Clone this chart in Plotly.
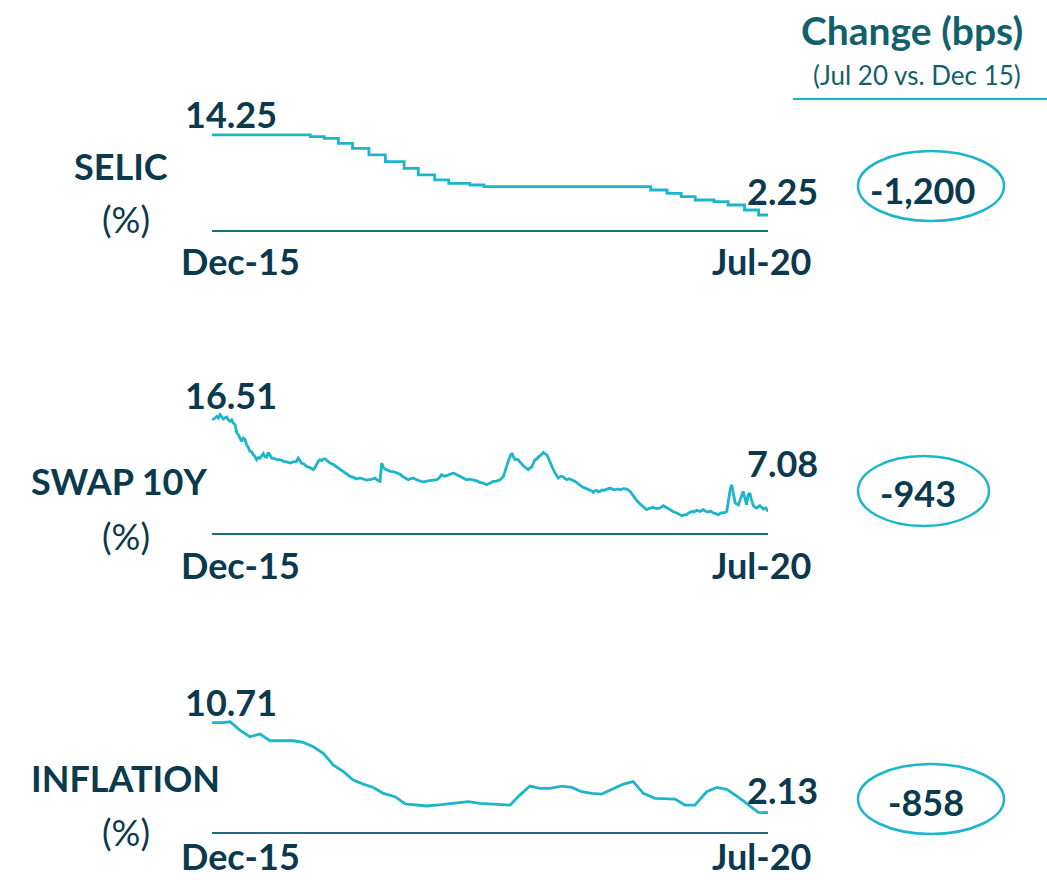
import pandas as pd
import plotly.graph_objects as go

W, H = 1047, 880

# ---- data -------------------------------------------------------------
START = "2015-12-31"
END = "2020-07-15"

# SELIC target rate (%), step changes
selic_dates = ["2015-12-31", "2016-10-19", "2016-11-30", "2017-01-11", "2017-02-22",
               "2017-04-12", "2017-05-31", "2017-07-26", "2017-09-06", "2017-10-25",
               "2017-12-06", "2018-02-07", "2018-03-21", "2019-07-31", "2019-09-18",
               "2019-10-30", "2019-12-11", "2020-02-05", "2020-03-18", "2020-05-06",
               "2020-06-17", "2020-07-15"]
selic_vals = [14.25, 14.00, 13.75, 13.00, 12.25, 11.25, 10.25, 9.25, 8.25, 7.50,
              7.00, 6.75, 6.50, 6.00, 5.50, 5.00, 4.50, 4.25, 3.75, 3.00, 2.25, 2.25]

# SWAP 10Y (%): (days after 31-Dec-2015, rate)
swap_points = [
    (0, 16.51), (7, 16.62), (14, 16.86), (19, 16.70), (24, 17.03), (29, 16.85),
    (34, 16.58), (39, 16.72), (44, 16.79), (49, 16.50), (54, 16.34), (59, 16.51),
    (64, 16.15), (69, 16.00), (74, 15.14), (78, 15.02), (83, 14.63), (88, 14.29),
    (93, 14.62), (98, 14.53), (103, 13.94), (108, 13.70), (113, 13.26), (118, 13.22),
    (123, 12.91), (128, 12.72), (133, 12.40), (138, 12.62), (143, 12.57), (148, 12.85),
    (153, 13.02), (158, 12.70), (163, 12.67), (168, 13.15), (173, 12.80), (178, 12.57),
    (185, 12.55), (193, 12.40), (203, 12.41), (213, 12.23), (223, 12.18), (233, 12.06),
    (243, 12.18), (252, 12.23), (257, 12.57), (262, 12.25), (267, 12.06), (275, 11.95),
    (282, 11.71), (292, 11.60), (302, 11.37), (307, 11.58), (312, 11.89), (317, 12.25),
    (322, 12.40), (327, 12.30), (332, 12.47), (337, 12.50), (342, 12.33), (347, 12.20),
    (352, 12.06), (362, 11.90), (372, 11.65), (382, 11.48), (392, 11.20), (402, 10.95),
    (412, 10.68), (422, 10.58), (431, 10.41), (441, 10.52), (451, 10.44), (461, 10.30),
    (471, 10.34), (479, 10.45), (486, 10.51), (494, 10.28), (501, 10.17), (506, 12.06),
    (511, 11.60), (516, 11.44), (523, 11.35), (531, 11.20), (541, 11.18), (551, 11.03),
    (561, 10.90), (571, 10.62), (578, 10.50), (585, 10.34), (592, 10.45), (600, 10.51),
    (610, 10.34), (620, 10.22), (630, 10.10), (640, 10.20), (650, 10.24), (660, 10.30),
    (670, 10.34), (678, 10.55), (685, 10.86), (692, 10.70), (700, 10.75), (710, 10.90),
    (720, 11.03), (730, 10.85), (740, 10.68), (750, 10.52), (759, 10.34), (769, 10.40),
    (779, 10.34), (789, 10.22), (799, 10.07), (809, 10.00), (819, 9.83), (829, 10.00),
    (839, 10.17), (849, 10.20), (859, 10.34), (869, 10.68), (874, 11.30), (879, 11.71),
    (884, 12.30), (889, 12.74), (894, 13.09), (899, 12.70), (904, 12.40), (911, 12.45),
    (918, 12.23), (923, 12.00), (928, 11.78), (935, 11.60), (943, 11.37), (948, 11.55),
    (953, 11.65), (958, 12.00), (963, 12.40), (968, 12.45), (973, 12.67), (980, 12.85),
    (988, 13.15), (993, 13.00), (998, 12.91), (1003, 12.60), (1008, 12.13), (1015, 11.60),
    (1023, 11.03), (1028, 10.70), (1033, 10.51), (1040, 10.70), (1048, 10.62), (1053, 10.45),
    (1058, 10.34), (1065, 10.45), (1073, 10.34), (1078, 10.30), (1083, 10.17), (1090, 9.98),
    (1098, 9.72), (1105, 9.58), (1113, 9.48), (1120, 9.40), (1128, 9.31), (1132, 9.20),
    (1137, 9.04), (1142, 9.20), (1147, 9.24), (1152, 9.10), (1157, 9.14), (1162, 9.28),
    (1167, 9.24), (1177, 9.38), (1187, 9.48), (1195, 9.35), (1202, 9.31), (1210, 9.40),
    (1217, 9.31), (1227, 9.42), (1237, 9.38), (1247, 9.14), (1254, 8.80), (1261, 8.46),
    (1268, 8.15), (1276, 7.87), (1283, 7.62), (1291, 7.43), (1296, 7.26), (1306, 7.42),
    (1316, 7.50), (1326, 7.38), (1336, 7.43), (1346, 7.67), (1356, 7.45), (1366, 7.26),
    (1376, 7.05), (1386, 6.91), (1393, 6.80), (1401, 6.64), (1408, 6.72), (1415, 6.74),
    (1422, 6.92), (1430, 7.08), (1437, 7.02), (1445, 7.19), (1455, 7.08), (1465, 7.26),
    (1472, 7.10), (1480, 7.02), (1487, 7.12), (1495, 6.91), (1502, 6.85), (1510, 6.74),
    (1517, 6.90), (1525, 6.91), (1530, 6.98), (1535, 7.08), (1540, 8.28), (1545, 9.31),
    (1550, 9.83), (1555, 8.80), (1560, 7.94), (1570, 7.77), (1579, 8.80), (1584, 9.14),
    (1589, 8.46), (1594, 7.77), (1599, 8.80), (1604, 8.97), (1609, 8.28), (1614, 7.67),
    (1619, 7.52), (1624, 7.43), (1634, 7.67), (1639, 7.45), (1644, 7.32), (1652, 7.43),
    (1658, 7.08),
]

# Inflation, 12 months (%), days after 31-Dec-2015
infl_days = [0, 30, 54, 83, 113, 143, 173, 203, 243, 272, 302, 332, 362, 392, 421,
             451, 481, 511, 546, 576, 640, 670, 700, 730, 764, 799, 829, 859, 889,
             918, 948, 978, 1008, 1043, 1073, 1102, 1132, 1162, 1197, 1227, 1256,
             1286, 1321, 1356, 1381, 1410, 1440, 1475, 1505, 1535, 1565, 1594, 1629,
             1658]
infl_vals = [10.71, 10.71, 10.80, 10.00, 9.37, 9.63, 8.99, 8.99, 8.99, 8.83, 8.42,
             7.79, 6.67, 6.04, 5.24, 4.86, 4.54, 3.97, 3.66, 2.96, 2.77, 2.86, 2.96,
             3.08, 3.18, 3.02, 2.96, 2.96, 2.86, 3.81, 4.67, 4.45, 4.45, 4.67, 4.54,
             4.13, 3.97, 3.91, 4.45, 4.86, 5.09, 3.97, 3.50, 3.50, 3.43, 2.86, 2.86,
             4.13, 4.54, 4.35, 3.72, 3.02, 2.16, 2.13]

panel_names = ["SELIC", "SWAP 10Y", "INFLATION"]
start_label = "Dec-15"
end_label = "Jul-20"

# ---- styling ----------------------------------------------------------
LINE = "#1cb5c9"
BASE = "#1d6b7c"
NAVY = "#0b394d"
TEAL = "#125f6e"
FONT = "Lato"


def px(x):
    return x / W


def py(y):
    return 1 - y / H


def days_to_dates(days):
    return pd.Timestamp(START) + pd.to_timedelta(list(days), unit="D")


swap_days, swap_vals = zip(*swap_points)

series = [
    (pd.to_datetime(selic_dates), list(selic_vals), "hv"),
    (days_to_dates(swap_days), list(swap_vals), "linear"),
    (days_to_dates(infl_days), list(infl_vals), "linear"),
]

# per panel: baseline pixel, value at baseline, pixels per unit, top of range
scales = [(230, 0.0, 6.67, 15.0), (533, 4.86, 9.72, 17.5), (831.7, 0.32, 10.49, 11.5)]

X_LEFT, X_RIGHT = 212, 768

fig = go.Figure()
layout = dict(width=W, height=H, margin=dict(l=0, r=0, t=0, b=0),
              paper_bgcolor="white", plot_bgcolor="rgba(0,0,0,0)", showlegend=False)

for i, ((x, y, shape), (pb, vb, s, vt)) in enumerate(zip(series, scales)):
    n = "" if i == 0 else str(i + 1)
    fig.add_trace(go.Scatter(x=x, y=y, mode="lines", xaxis="x" + n, yaxis="y" + n,
                             line=dict(color=LINE, width=2.8, shape=shape),
                             hoverinfo="skip"))
    top_px = pb - (vt - vb) * s
    layout["xaxis" + n] = dict(domain=[px(X_LEFT), px(X_RIGHT)], range=[START, END],
                               type="date", showgrid=False, zeroline=False,
                               showticklabels=False, ticks="", showline=True,
                               linecolor=BASE, linewidth=2, anchor="y" + n)
    layout["yaxis" + n] = dict(domain=[py(pb), py(top_px)], range=[vb, vt],
                               showgrid=False, zeroline=False, visible=False,
                               anchor="x" + n)

fig.update_layout(**layout)

annotations = []


def label(text, x, y, size, color=NAVY, bold=True, xanchor="center", yanchor="middle"):
    annotations.append(dict(
        text=f"<b>{text}</b>" if bold else text, x=px(x), y=py(y),
        xref="paper", yref="paper", xanchor=xanchor, yanchor=yanchor,
        showarrow=False, font=dict(family=FONT, size=size, color=color)))


# panel text positions (pixels)
name_pos = [(121, 166), (119, 481), (125, 778)]
pct_pos = [(126, 219), (126, 536), (126, 832)]
axis_y = [261, 565, 880]
axis_anchor = ["middle", "middle", "bottom"]
start_y = [114, 395, 702]
end_y = [191, 463, 790]
ellipses = [(858, 1004, 151, 221), (858, 989, 456, 526), (858, 1004, 764, 834)]
change_pos = [(922, 190), (918, 493), (926, 802)]

shapes = []
for i, (_, vals, _) in enumerate(series):
    first, last = vals[0], vals[-1]
    change = round((last - first) * 100)
    label(panel_names[i], *name_pos[i], 36)
    label("(%)", *pct_pos[i], 36, bold=False)
    label(f"{first:.2f}", 183, start_y[i], 36, xanchor="left")
    label(f"{last:.2f}", 745, end_y[i], 36, xanchor="left")
    label(start_label, 179, axis_y[i], 36, xanchor="left", yanchor=axis_anchor[i])
    label(end_label, 813, axis_y[i], 36, xanchor="right", yanchor=axis_anchor[i])
    label(f"{change:,}", *change_pos[i], 36)
    x0, x1, y0, y1 = ellipses[i]
    shapes.append(dict(type="circle", xref="paper", yref="paper",
                       x0=px(x0), x1=px(x1), y0=py(y1), y1=py(y0),
                       line=dict(color=LINE, width=2.5)))

# header for the change column
label("Change (bps)", 912, 30, 39, color=TEAL)
label("(Jul 20 vs. Dec 15)", 917, 75, 26, color=TEAL, bold=False)
shapes.append(dict(type="line", xref="paper", yref="paper",
                   x0=px(793), x1=1, y0=py(99), y1=py(99),
                   line=dict(color=LINE, width=2)))

fig.update_layout(annotations=annotations, shapes=shapes)
fig.write_html("out.html")
